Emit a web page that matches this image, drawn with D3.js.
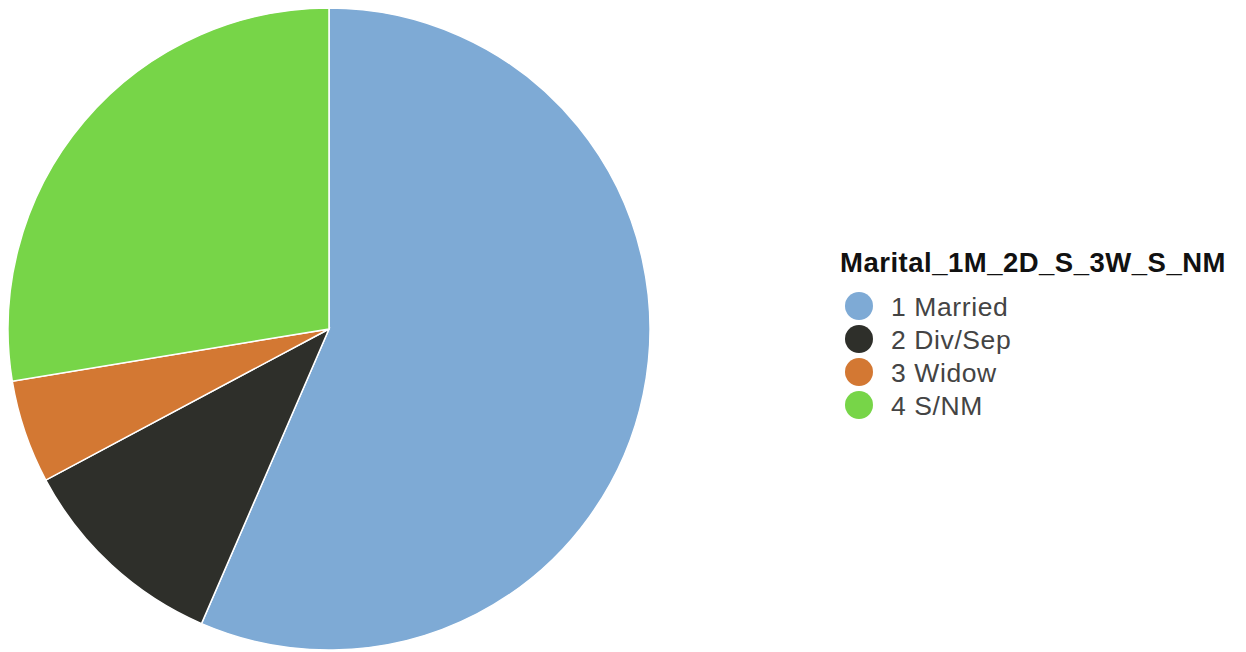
<!DOCTYPE html>
<html>
<head>
<meta charset="utf-8">
<script src="https://cdn.jsdelivr.net/npm/d3@7"></script>
<style>
  html, body { margin: 0; padding: 0; background: #fff; }
  svg { display: block; font-family: "Liberation Sans", Arial, sans-serif; }
</style>
</head>
<body>
<svg id="chart" width="1246" height="652"></svg>
<script>
// Marital status shares (percent)
const categories = ["1 Married", "2 Div/Sep", "3 Widow", "4 S/NM"];
const values = [56.5, 10.7, 5.2, 27.6];
const colors = ["#7eaad5", "#2e2f2a", "#d37833", "#77d548"];
const legendTitle = "Marital_1M_2D_S_3W_S_NM";

const svg = d3.select("#chart");
const cx = 329, cy = 329, radius = 321;

const data = categories.map((c, i) => ({ cat: c, value: values[i] }));
const color = d3.scaleOrdinal().domain(categories).range(colors);

const pie = d3.pie().value(d => d.value).sort(null);
const arc = d3.arc().innerRadius(0).outerRadius(radius);

svg.append("g")
  .attr("transform", `translate(${cx},${cy})`)
  .selectAll("path")
  .data(pie(data))
  .join("path")
  .attr("d", arc)
  .attr("fill", d => color(d.data.cat))
  .attr("stroke", "#fff")
  .attr("stroke-width", 1.5);

// Legend: title, then one swatch + label per category
const lg = svg.append("g").attr("transform", "translate(840,0)");
lg.append("text")
  .attr("x", 0).attr("y", 272)
  .attr("font-size", 27.5)
  .attr("font-weight", "bold")
  .attr("letter-spacing", 0.5)
  .attr("fill", "#111")
  .text(legendTitle);

const rowY = d3.scalePoint().domain(categories).range([306, 405]);
const rows = lg.selectAll("g.row").data(categories).join("g")
  .attr("class", "row")
  .attr("transform", d => `translate(0,${rowY(d)})`);
rows.append("circle")
  .attr("cx", 19).attr("cy", 0).attr("r", 14)
  .attr("fill", d => color(d));
rows.append("text")
  .attr("x", 51).attr("y", 0).attr("dy", "0.36em")
  .attr("font-size", 26.5)
  .attr("letter-spacing", 0.6)
  .attr("fill", "#444")
  .text(d => d);
</script>
</body>
</html>
